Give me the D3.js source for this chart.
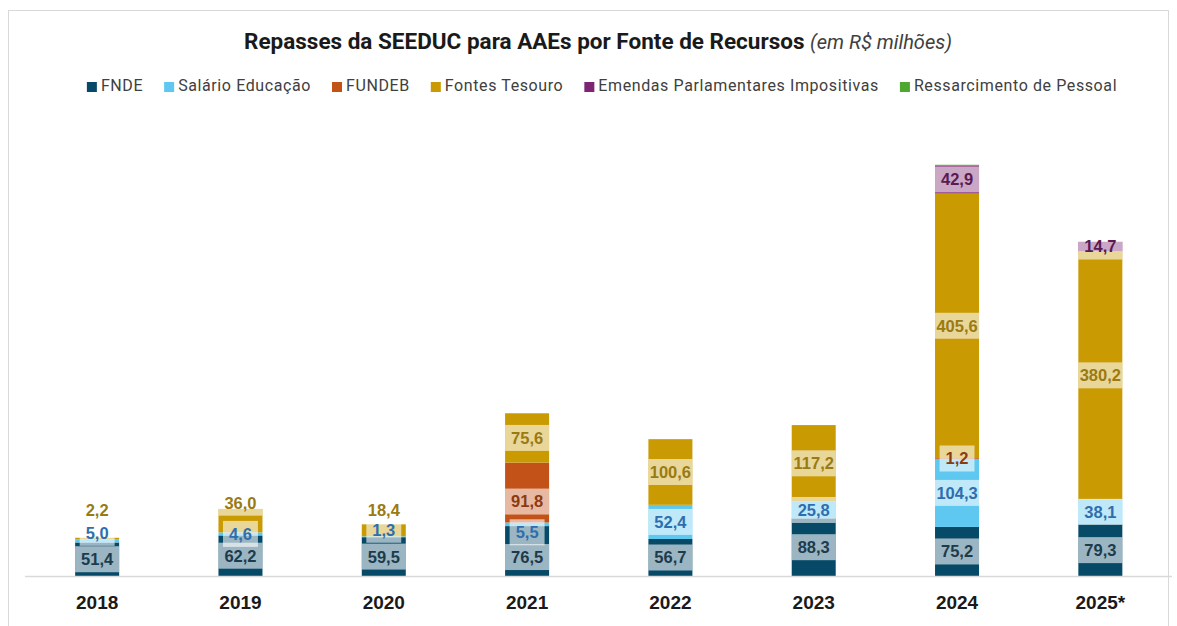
<!DOCTYPE html>
<html><head><meta charset="utf-8">
<script src="https://cdn.jsdelivr.net/npm/d3@7"></script>
<style>body{margin:0;background:#fff}svg{display:block}</style>
</head><body>
<svg id="c" width="1177" height="626"></svg>
<script>
const years = ["2018","2019","2020","2021","2022","2023","2024","2025*"];
const fnde = [51.4,62.2,59.5,76.5,56.7,88.3,75.2,79.3];
const salario = [5.0,4.6,1.3,5.5,52.4,25.8,104.3,38.1];
const fundeb = [0,0,0,91.8,0,0,1.2,0];
const tesouro = [2.2,36.0,18.4,75.6,100.6,117.2,405.6,380.2];
const emendas = [0,0,0,0,0,0,42.9,14.7];
const ressarcimento = [0,0,0,0,0,0,1.0,0];
const seriesNames = ["FNDE","Salário Educação","FUNDEB","Fontes Tesouro","Emendas Parlamentares Impositivas","Ressarcimento de Pessoal"];

const keys = ["fnde","salario","fundeb","tesouro","emendas","ressarcimento"];
const values = {fnde,salario,fundeb,tesouro,emendas,ressarcimento};
const colors = {fnde:"#064a68",salario:"#5fc8f0",fundeb:"#c25217",tesouro:"#c99a02",emendas:"#7d2472",ressarcimento:"#4ea72e"};
const labelColors = {fnde:"#1c3b4d",salario:"#2f6eae",fundeb:"#8c3a12",tesouro:"#9a7a12",emendas:"#5a1a52"};
const labelDy = {"2018|salario":-8,"2018|tesouro":-28,"2019|tesouro":-18,"2020|salario":-7,"2020|tesouro":-20,"2021|fnde":6,"2021|salario":8,"2021|fundeb":9};

const svg = d3.select("#c");
svg.append("rect").attr("x",8.5).attr("y",10.5).attr("width",1160).attr("height",640)
  .attr("fill","#fff").attr("stroke","#d9d9d9");

const table = years.map((y,i)=>{const o={year:y}; keys.forEach(k=>o[k]=values[k][i]); return o;});
const stack = d3.stack().keys(keys)(table);

const x = d3.scaleBand().domain(years).range([25.5,1172]).paddingInner(0.693).paddingOuter(0.3465);
const y = d3.scaleLinear().domain([0,700]).range([576,576-700*0.6525]);

const g = svg.append("g");
stack.forEach(layer=>{
  g.selectAll(null).data(layer).enter().append("rect")
    .attr("x",d=>x(d.data.year)).attr("width",x.bandwidth())
    .attr("y",d=>y(d[1])).attr("height",d=>Math.max(0,y(d[0])-y(d[1])))
    .attr("fill",colors[layer.key]);
});

const xAxis = svg.append("g").attr("transform","translate(0,576)").call(d3.axisBottom(x).tickSize(0).tickPadding(20));
xAxis.select(".domain").attr("stroke","#d9d9d9").attr("stroke-width",1.3).attr("d","M25,0.5H1172");
xAxis.selectAll("text").attr("font-family","Liberation Sans, Arial, sans-serif").attr("font-weight","bold")
  .attr("font-size",19).attr("fill","#1a1a1a");

const fmt = v => d3.format(".1f")(v).replace(".",",");
const lg = svg.append("g").attr("font-family","Liberation Sans, Arial, sans-serif").attr("font-weight","bold").attr("font-size",16.5);
stack.forEach(layer=>{
  if(layer.key==="ressarcimento") return;
  layer.forEach(d=>{
    const v = d[1]-d[0];
    if(v<=0) return;
    const yr = d.data.year.replace("*","");
    const cy = (y(d[0])+y(d[1]))/2 + (labelDy[yr+"|"+layer.key]||0);
    const cx = x(d.data.year)+x.bandwidth()/2;
    const t = lg.append("text").attr("x",cx).attr("y",cy).attr("dy","0.36em")
      .attr("text-anchor","middle").attr("fill",labelColors[layer.key]).text(fmt(v));
    const tw = t.node().getComputedTextLength();
    const bw = Math.min(tw+12, x.bandwidth());
    lg.insert("rect",()=>t.node()).attr("x",cx-bw/2).attr("y",cy-13).attr("width",bw).attr("height",26)
      .attr("fill","#fff").attr("fill-opacity",0.6);
  });
});

const title = svg.append("text").attr("x",598).attr("y",49).attr("text-anchor","middle")
  .attr("font-family","Roboto, Arial, sans-serif");
title.append("tspan").attr("font-weight","bold").attr("font-size",22.5).attr("fill","#1a1a1a")
  .text("Repasses da SEEDUC para AAEs por Fonte de Recursos ");
title.append("tspan").attr("font-style","italic").attr("font-size",20).attr("fill","#404040").text("(em R$ milhões)");

const leg = svg.append("g").attr("font-family","Roboto, Arial, sans-serif").attr("font-size",16).attr("fill","#404040");
const items = [];
keys.forEach((k,i)=>{
  const it = leg.append("g");
  it.append("rect").attr("x",0).attr("y",-9).attr("width",10).attr("height",10).attr("fill",colors[k]);
  const t = it.append("text").attr("x",14).attr("y",0).attr("letter-spacing",0.6).text(seriesNames[i]);
  const w = 14 + t.node().getComputedTextLength();
  items.push({it,w});
});
const gap = 21;
const total = d3.sum(items,d=>d.w)+gap*(items.length-1);
let px = 602 - total/2;
items.forEach(d=>{d.it.attr("transform",`translate(${px},91)`); px += d.w+gap;});
</script>
</body></html>
